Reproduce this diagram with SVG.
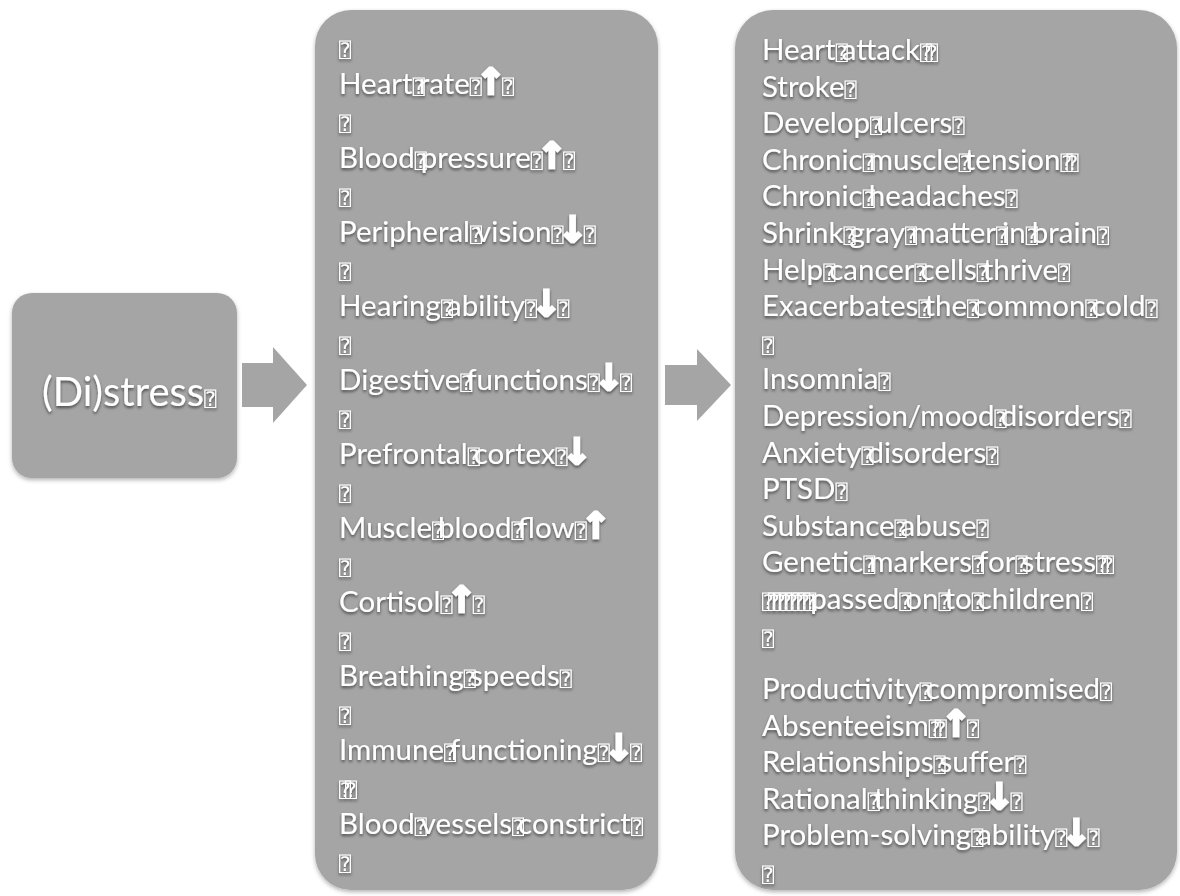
<svg xmlns="http://www.w3.org/2000/svg" width="1180" height="896" viewBox="0 0 1180 896">
<defs>
<filter id="bs" x="-10%" y="-10%" width="120%" height="120%"><feDropShadow dx="0" dy="2" stdDeviation="2" flood-color="#000" flood-opacity="0.3"/></filter>
<filter id="ts" x="-5%" y="-20%" width="110%" height="160%"><feDropShadow dx="0" dy="2" stdDeviation="1.5" flood-color="#000" flood-opacity="0.55"/></filter>
</defs>
<style>
.box{fill:#a5a5a5;filter:url(#bs)}
.conn{fill:#a5a5a5}
.t{font-family:Lato,"Liberation Sans",sans-serif;font-size:29.5px;fill:#fff;filter:url(#ts)}
.big{font-size:40px}
.q{font-family:"DejaVu Sans Mono",monospace;font-size:20px;letter-spacing:-6px}
.a{font-family:"DejaVu Sans",sans-serif;font-weight:bold;font-size:36px;letter-spacing:-4px;stroke:#fff;stroke-width:2.4px}
</style>
<rect width="1180" height="896" fill="#fff"/>
<g id="connectors">
<path class="conn" d="M242,363 H273 V347 L307,385 L273,423 V407 H242 Z"/>
<path class="conn" d="M665,365 H697 V349 L731,385 L697,421 V405 H665 Z"/>
</g>
<g id="node-distress">
<rect class="box" x="12" y="293" width="225" height="185" rx="20"/>
<text class="t big" x="42" y="406">(Di)stress<tspan class="q">&#x2370;</tspan></text>
</g>
<g id="node-responses">
<rect class="box" x="315" y="10" width="343" height="880" rx="36"/>
<g class="t">
<text x="339" y="57"><tspan class="q">&#x2370;</tspan></text>
<text x="339" y="94">Heart<tspan class="q">&#x2370;</tspan>rate<tspan class="q">&#x2370;</tspan><tspan class="a">&#x2191;</tspan><tspan class="q">&#x2370;</tspan></text>
<text x="339" y="131"><tspan class="q">&#x2370;</tspan></text>
<text x="339" y="168">Blood<tspan class="q">&#x2370;</tspan>pressure<tspan class="q">&#x2370;</tspan><tspan class="a">&#x2191;</tspan><tspan class="q">&#x2370;</tspan></text>
<text x="339" y="205"><tspan class="q">&#x2370;</tspan></text>
<text x="339" y="242">Peripheral<tspan class="q">&#x2370;</tspan>vision<tspan class="q">&#x2370;</tspan><tspan class="a">&#x2193;</tspan><tspan class="q">&#x2370;</tspan></text>
<text x="339" y="279"><tspan class="q">&#x2370;</tspan></text>
<text x="339" y="316">Hearing<tspan class="q">&#x2370;</tspan>ability<tspan class="q">&#x2370;</tspan><tspan class="a">&#x2193;</tspan><tspan class="q">&#x2370;</tspan></text>
<text x="339" y="353"><tspan class="q">&#x2370;</tspan></text>
<text x="339" y="390">Digestive<tspan class="q">&#x2370;</tspan>functions<tspan class="q">&#x2370;</tspan><tspan class="a">&#x2193;</tspan><tspan class="q">&#x2370;</tspan></text>
<text x="339" y="427"><tspan class="q">&#x2370;</tspan></text>
<text x="339" y="464">Prefrontal<tspan class="q">&#x2370;</tspan>cortex<tspan class="q">&#x2370;</tspan><tspan class="a">&#x2193;</tspan></text>
<text x="339" y="501"><tspan class="q">&#x2370;</tspan></text>
<text x="339" y="538">Muscle<tspan class="q">&#x2370;</tspan>blood<tspan class="q">&#x2370;</tspan>flow<tspan class="q">&#x2370;</tspan><tspan class="a">&#x2191;</tspan></text>
<text x="339" y="575"><tspan class="q">&#x2370;</tspan></text>
<text x="339" y="612">Cortisol<tspan class="q">&#x2370;</tspan><tspan class="a">&#x2191;</tspan><tspan class="q">&#x2370;</tspan></text>
<text x="339" y="649"><tspan class="q">&#x2370;</tspan></text>
<text x="339" y="686">Breathing<tspan class="q">&#x2370;</tspan>speeds<tspan class="q">&#x2370;</tspan></text>
<text x="339" y="723"><tspan class="q">&#x2370;</tspan></text>
<text x="339" y="760">Immune<tspan class="q">&#x2370;</tspan>functioning<tspan class="q">&#x2370;</tspan><tspan class="a">&#x2193;</tspan><tspan class="q">&#x2370;</tspan></text>
<text x="339" y="797"><tspan class="q">&#x2370;&#x2370;</tspan></text>
<text x="339" y="834">Blood<tspan class="q">&#x2370;</tspan>vessels<tspan class="q">&#x2370;</tspan>constrict<tspan class="q">&#x2370;</tspan></text>
<text x="339" y="871"><tspan class="q">&#x2370;</tspan></text>
</g>
</g>
<g id="node-effects">
<rect class="box" x="735" y="10" width="442" height="880" rx="38"/>
<g class="t">
<text x="762" y="60">Heart<tspan class="q">&#x2370;</tspan>attack<tspan class="q">&#x2370;&#x2370;</tspan></text>
<text x="762" y="96.6">Stroke<tspan class="q">&#x2370;</tspan></text>
<text x="762" y="133.2">Develop<tspan class="q">&#x2370;</tspan>ulcers<tspan class="q">&#x2370;</tspan></text>
<text x="762" y="169.8">Chronic<tspan class="q">&#x2370;</tspan>muscle<tspan class="q">&#x2370;</tspan>tension<tspan class="q">&#x2370;&#x2370;</tspan></text>
<text x="762" y="206.4">Chronic<tspan class="q">&#x2370;</tspan>headaches<tspan class="q">&#x2370;</tspan></text>
<text x="762" y="243">Shrink<tspan class="q">&#x2370;</tspan>gray<tspan class="q">&#x2370;</tspan>matter<tspan class="q">&#x2370;</tspan>in<tspan class="q">&#x2370;</tspan>brain<tspan class="q">&#x2370;</tspan></text>
<text x="762" y="279.6">Help<tspan class="q">&#x2370;</tspan>cancer<tspan class="q">&#x2370;</tspan>cells<tspan class="q">&#x2370;</tspan>thrive<tspan class="q">&#x2370;</tspan></text>
<text x="762" y="316.2">Exacerbates<tspan class="q">&#x2370;</tspan>the<tspan class="q">&#x2370;</tspan>common<tspan class="q">&#x2370;</tspan>cold<tspan class="q">&#x2370;</tspan></text>
<text x="762" y="352.8"><tspan class="q">&#x2370;</tspan></text>
<text x="762" y="389.4">Insomnia<tspan class="q">&#x2370;</tspan></text>
<text x="762" y="426">Depression/mood<tspan class="q">&#x2370;</tspan>disorders<tspan class="q">&#x2370;</tspan></text>
<text x="762" y="462.6">Anxiety<tspan class="q">&#x2370;</tspan>disorders<tspan class="q">&#x2370;</tspan></text>
<text x="762" y="499.2">PTSD<tspan class="q">&#x2370;</tspan></text>
<text x="762" y="535.8">Substance<tspan class="q">&#x2370;</tspan>abuse<tspan class="q">&#x2370;</tspan></text>
<text x="762" y="572.4">Genetic<tspan class="q">&#x2370;</tspan>markers<tspan class="q">&#x2370;</tspan>for<tspan class="q">&#x2370;</tspan>stress<tspan class="q">&#x2370;&#x2370;</tspan></text>
<text x="762" y="609"><tspan class="q">&#x2370;&#x2370;&#x2370;&#x2370;&#x2370;&#x2370;&#x2370;&#x2370;</tspan>passed<tspan class="q">&#x2370;</tspan>on<tspan class="q">&#x2370;</tspan>to<tspan class="q">&#x2370;</tspan>children<tspan class="q">&#x2370;</tspan></text>
<text x="762" y="645.6"><tspan class="q">&#x2370;</tspan></text>
<text x="762" y="699">Productivity<tspan class="q">&#x2370;</tspan>compromised<tspan class="q">&#x2370;</tspan></text>
<text x="762" y="735.6">Absenteeism<tspan class="q">&#x2370;&#x2370;</tspan><tspan class="a">&#x2191;</tspan><tspan class="q">&#x2370;</tspan></text>
<text x="762" y="772.2">Relationships<tspan class="q">&#x2370;</tspan>suffer<tspan class="q">&#x2370;</tspan></text>
<text x="762" y="808.8">Rational<tspan class="q">&#x2370;</tspan>thinking<tspan class="q">&#x2370;</tspan><tspan class="a">&#x2193;</tspan><tspan class="q">&#x2370;</tspan></text>
<text x="762" y="845.4">Problem-solving<tspan class="q">&#x2370;</tspan>ability<tspan class="q">&#x2370;</tspan><tspan class="a">&#x2193;</tspan><tspan class="q">&#x2370;</tspan></text>
<text x="762" y="882"><tspan class="q">&#x2370;</tspan></text>
</g>
</g>
</svg>
